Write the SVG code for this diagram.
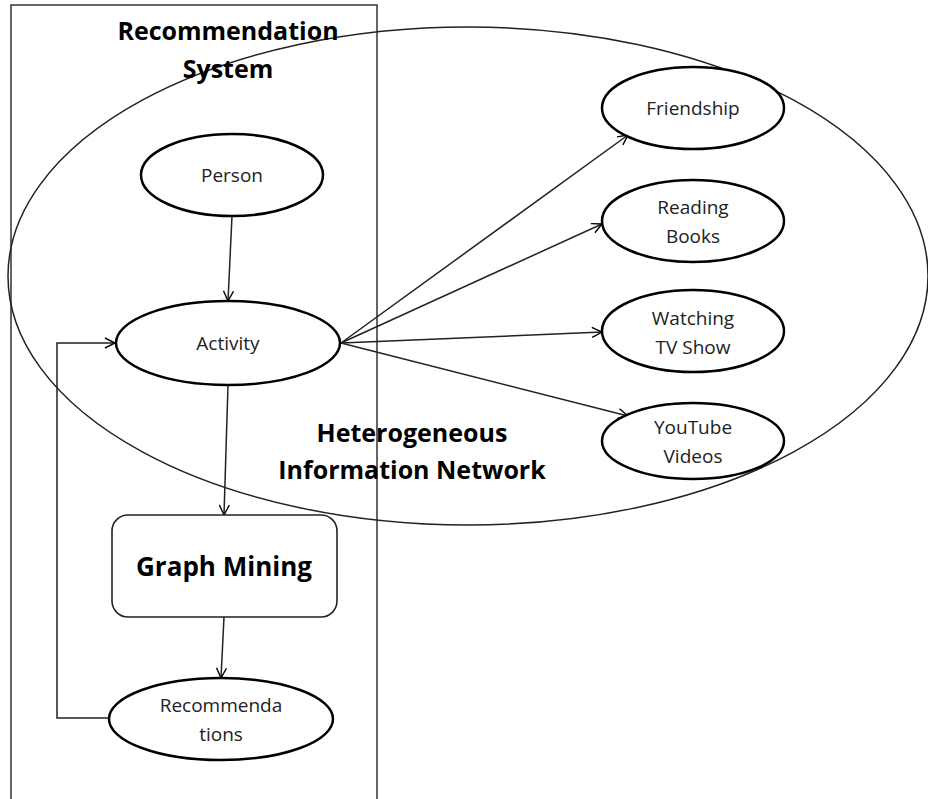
<svg xmlns="http://www.w3.org/2000/svg" width="928" height="799" viewBox="0 0 928 799">
<defs>
<marker id="arr" viewBox="0 0 12 12" refX="11" refY="6" markerWidth="12" markerHeight="12" markerUnits="userSpaceOnUse" orient="auto">
<path d="M1,1 L11,6 L1,11" fill="none" stroke="#000" stroke-width="1.4"/>
</marker>
</defs>
<style>
.n{fill:#fff;stroke:#000;stroke-width:2.5}
.r{fill:#fff;stroke:#222;stroke-width:1.6}
.t{font-family:"Open Sans","Liberation Sans",sans-serif;font-size:19px;fill:#222;text-anchor:middle}
.b{font-family:"Open Sans","Liberation Sans",sans-serif;font-weight:bold;font-size:25px;fill:#000;text-anchor:middle}
.c{fill:none;stroke:#222;stroke-width:1.5;marker-end:url(#arr)}
</style>
<rect x="0" y="0" width="928" height="799" fill="#fff"/>
<g id="system">
<path d="M11,799 L11,5 L377,5 L377,799" fill="none" stroke="#333" stroke-width="1.5"/>
</g>
<g id="hin">
<ellipse cx="468" cy="276" rx="460" ry="249" fill="none" stroke="#222" stroke-width="1.5"/>
</g>
<g id="connectors">
<path class="c" d="M232,216 L228,301"/>
<path class="c" d="M228,385 L224,515"/>
<path class="c" d="M224,617 L221,678"/>
<path class="c" d="M108,718 L57,718 L57,343 L115,343"/>
<path class="c" d="M341,343 L628,135"/>
<path class="c" d="M341,343 L602,224"/>
<path class="c" d="M341,343 L602,332"/>
<path class="c" d="M341,343 L628,416"/>
</g>
<g id="person"><ellipse class="n" cx="232" cy="175" rx="91" ry="41"/><text class="t" x="232" y="182">Person</text></g>
<g id="activity"><ellipse class="n" cx="228" cy="343" rx="112" ry="42"/><text class="t" x="228" y="350">Activity</text></g>
<g id="graphmining"><rect class="r" x="112" y="515" width="225" height="102" rx="16"/><text class="b" x="224" y="576" style="font-size:26px">Graph Mining</text></g>
<g id="recommendations"><ellipse class="n" cx="221" cy="719" rx="112" ry="41"/><text class="t" x="221" y="712">Recommenda</text><text class="t" x="221" y="741">tions</text></g>
<g id="friendship"><ellipse class="n" cx="693" cy="108" rx="91" ry="41"/><text class="t" x="693" y="115">Friendship</text></g>
<g id="reading"><ellipse class="n" cx="693" cy="221" rx="91" ry="41"/><text class="t" x="693" y="214">Reading</text><text class="t" x="693" y="243">Books</text></g>
<g id="watching"><ellipse class="n" cx="693" cy="331" rx="91" ry="41"/><text class="t" x="693" y="325">Watching</text><text class="t" x="693" y="354">TV Show</text></g>
<g id="youtube"><ellipse class="n" cx="693" cy="441" rx="91" ry="38"/><text class="t" x="693" y="434">YouTube</text><text class="t" x="693" y="463">Videos</text></g>
<g id="labels">
<text class="b" x="228" y="40">Recommendation</text>
<text class="b" x="228" y="78">System</text>
<text class="b" x="412" y="442">Heterogeneous</text>
<text class="b" x="412" y="479">Information Network</text>
</g>
</svg>
